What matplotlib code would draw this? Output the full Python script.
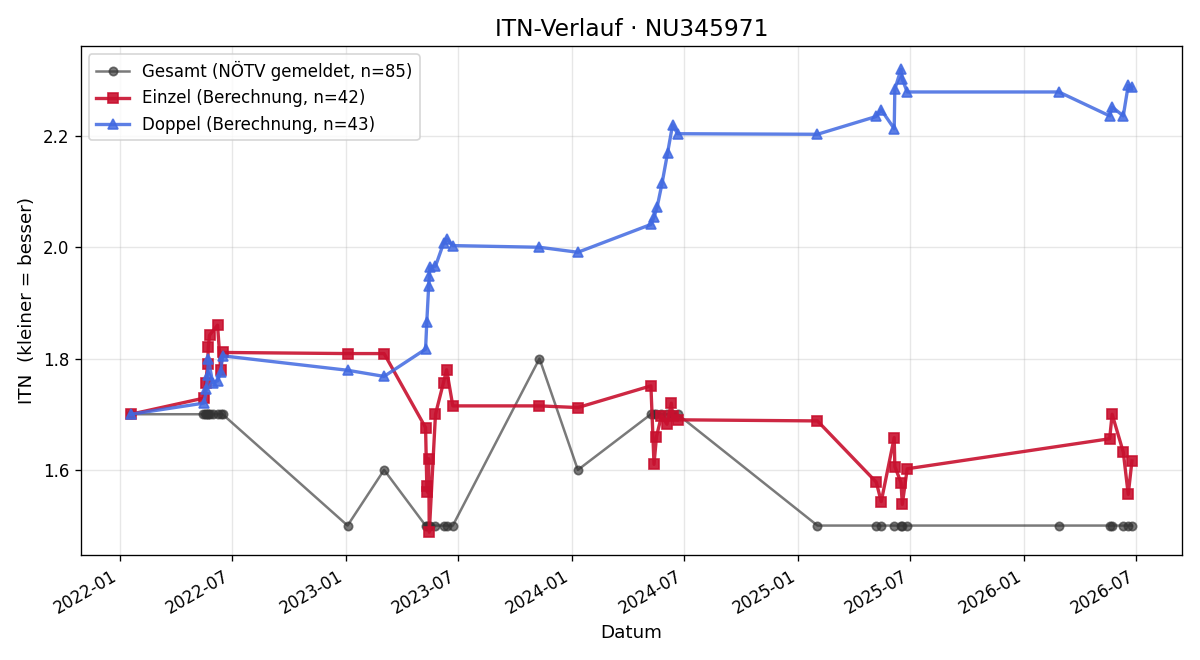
import matplotlib
matplotlib.use("Agg")
import matplotlib.pyplot as plt
import matplotlib.dates as mdates
import pandas as pd

# Gesamt (NÖTV gemeldet)
gesamt_dates = ["2022-01-19", "2022-05-16", "2022-05-18", "2022-05-20", "2022-05-23", "2022-05-24",
                "2022-05-26", "2022-05-31", "2022-06-08", "2022-06-13", "2022-06-16",
                "2023-01-04", "2023-03-04",
                "2023-05-10", "2023-05-12", "2023-05-15", "2023-05-17", "2023-05-26", "2023-06-08",
                "2023-06-13", "2023-06-23",
                "2023-11-10", "2024-01-11",
                "2024-05-08", "2024-05-13", "2024-05-17", "2024-05-25", "2024-06-03", "2024-06-11",
                "2024-06-20",
                "2025-02-01",
                "2025-05-07", "2025-05-15", "2025-06-05", "2025-06-16", "2025-06-18", "2025-06-26",
                "2026-02-26",
                "2026-05-19", "2026-05-23", "2026-06-10", "2026-06-18", "2026-06-24"]
gesamt_vals = [1.7, 1.7, 1.7, 1.7, 1.7, 1.7, 1.7, 1.7, 1.7, 1.7, 1.7,
               1.5, 1.6,
               1.5, 1.5, 1.5, 1.5, 1.5, 1.5, 1.5, 1.5,
               1.8, 1.6,
               1.7, 1.7, 1.7, 1.7, 1.7, 1.7, 1.7,
               1.5,
               1.5, 1.5, 1.5, 1.5, 1.5, 1.5,
               1.5,
               1.5, 1.5, 1.5, 1.5, 1.5]

# Einzel (Berechnung)
einzel_dates = ["2022-01-19", "2022-05-17", "2022-05-20", "2022-05-23", "2022-05-24", "2022-05-26",
                "2022-06-08", "2022-06-13", "2022-06-16",
                "2023-01-04", "2023-03-04",
                "2023-05-10", "2023-05-12", "2023-05-13", "2023-05-15", "2023-05-16", "2023-05-26",
                "2023-06-08", "2023-06-13", "2023-06-23",
                "2023-11-10", "2024-01-11",
                "2024-05-08", "2024-05-13", "2024-05-17", "2024-05-25", "2024-06-03", "2024-06-10",
                "2024-06-12", "2024-06-20",
                "2025-02-01",
                "2025-05-07", "2025-05-15", "2025-06-05", "2025-06-06", "2025-06-16", "2025-06-18",
                "2025-06-26",
                "2026-05-19", "2026-05-23", "2026-06-10", "2026-06-18", "2026-06-24"]
einzel_vals = [1.700, 1.729, 1.757, 1.790, 1.820, 1.842,
               1.860, 1.780, 1.811,
               1.809, 1.809,
               1.676, 1.571, 1.560, 1.620, 1.488, 1.700,
               1.757, 1.780, 1.715,
               1.715, 1.712,
               1.751, 1.610, 1.660, 1.697, 1.682, 1.720,
               1.696, 1.690,
               1.688,
               1.578, 1.543, 1.658, 1.606, 1.577, 1.538,
               1.602,
               1.656, 1.700, 1.632, 1.556, 1.616]

# Doppel (Berechnung)
doppel_dates = ["2022-01-19", "2022-05-17", "2022-05-21", "2022-05-23", "2022-05-24", "2022-05-31",
                "2022-06-08", "2022-06-13", "2022-06-16",
                "2023-01-04", "2023-03-04",
                "2023-05-10", "2023-05-12", "2023-05-15", "2023-05-16", "2023-05-17", "2023-05-26",
                "2023-06-08", "2023-06-13", "2023-06-23",
                "2023-11-10", "2024-01-11",
                "2024-05-08", "2024-05-13", "2024-05-18", "2024-05-26", "2024-06-04", "2024-06-12",
                "2024-06-20",
                "2025-02-01",
                "2025-05-07", "2025-05-15", "2025-06-05", "2025-06-06", "2025-06-16", "2025-06-18",
                "2025-06-26",
                "2026-02-26",
                "2026-05-19", "2026-05-23", "2026-06-10", "2026-06-18", "2026-06-24"]
doppel_vals = [1.700, 1.720, 1.745, 1.770, 1.800, 1.757,
               1.760, 1.775, 1.805,
               1.779, 1.768,
               1.817, 1.866, 1.930, 1.948, 1.965, 1.966,
               2.007, 2.015, 2.003,
               2.000, 1.991,
               2.041, 2.054, 2.072, 2.115, 2.170, 2.220,
               2.204,
               2.203,
               2.235, 2.247, 2.213, 2.284, 2.320, 2.302,
               2.279,
               2.279,
               2.236, 2.252, 2.236, 2.291, 2.288]

fig, ax = plt.subplots(figsize=(10, 5.5), dpi=120)

ax.plot(pd.to_datetime(gesamt_dates), gesamt_vals, "-o", color="#333333", alpha=0.65,
        lw=1.5, ms=5, label="Gesamt (NÖTV gemeldet, n=85)")
ax.plot(pd.to_datetime(einzel_dates), einzel_vals, "-s", color="#c8102e", alpha=0.9,
        lw=2, ms=6, label="Einzel (Berechnung, n=42)")
ax.plot(pd.to_datetime(doppel_dates), doppel_vals, "-^", color="#4169e1", alpha=0.85,
        lw=2, ms=6, label="Doppel (Berechnung, n=43)")

ax.set_title("ITN-Verlauf · NU345971", fontsize=14)
ax.set_xlabel("Datum", fontsize=11)
ax.set_ylabel("ITN  (kleiner = besser)", fontsize=11)
ax.grid(True, alpha=0.3)
ax.legend(loc="upper left")
ax.xaxis.set_major_locator(mdates.MonthLocator(bymonth=[1, 7]))
ax.xaxis.set_major_formatter(mdates.DateFormatter("%Y-%m"))
fig.autofmt_xdate()
fig.tight_layout()
fig.savefig("out.png")
